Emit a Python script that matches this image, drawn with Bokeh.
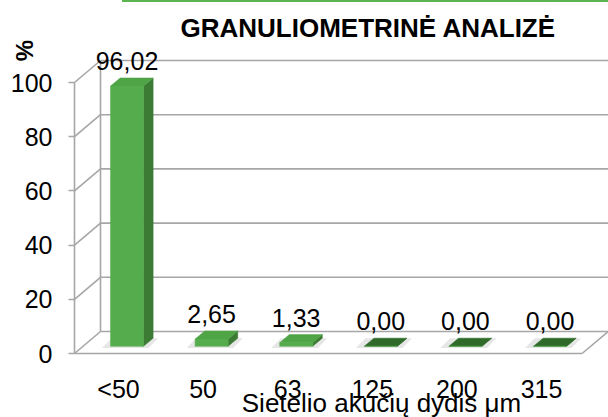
import numpy as np
from bokeh.plotting import figure
from bokeh.layouts import column
from bokeh.models import Range1d, FixedTicker, ColumnDataSource, LabelSet, Label, Div
from bokeh.core.properties import value
from bokeh.embed import file_html
from bokeh.resources import INLINE

# ---- data ----
categories = ["<50", "50", "63", "125", "200", "315"]
values = [96.02, 2.65, 1.33, 0.00, 0.00, 0.00]
y_ticks = [0, 20, 40, 60, 80, 100]
title_text = "GRANULIOMETRINĖ ANALIZĖ"
x_title = "Sietelio akučių dydis μm"
y_title = "%"

# ---- layout / projection settings ----
FONT = "Liberation Sans"
STRIP = 2                           # green rule above the chart
TOP = 40                            # screen y of the plot frame top
FRAME_W, FRAME_H = 608, 377
PX_X, PX_Y = 84.6, 2.71             # pixels per category / per percent
CAT0_PX, ZERO_PX = 118, 353         # screen position of first category / of 0 %
XS = -CAT0_PX / PX_X                # x range start (screen x = 0)
YS = (ZERO_PX - (TOP + FRAME_H)) / PX_Y
X_AXIS_X = (74 - CAT0_PX) / PX_X    # front edge of the 3D box
X_LABEL_Y = (ZERO_PX - 360) / PX_Y  # where category labels hang
DX, DY = 26 / PX_X, 22 / PX_Y       # depth of the 3D box in data units
F, BD, HW = 0.327, 0.37, 0.195      # bar front depth, bar depth, half width
GRID = "#a6a6a6"

n = len(categories)
xi = np.arange(n, dtype=float)
v = np.array(values, dtype=float)

p = figure(frame_width=FRAME_W, frame_height=FRAME_H,
           x_range=Range1d(XS, XS + FRAME_W / PX_X),
           y_range=Range1d(YS, YS + FRAME_H / PX_Y),
           output_backend="svg", toolbar_location=None,
           min_border_left=0, min_border_top=TOP - STRIP,
           min_border_right=0, min_border_bottom=0,
           title=title_text)
p.outline_line_color = None
p.background_fill_color = "white"
p.border_fill_color = "white"
p.xgrid.visible = False
p.ygrid.visible = False

p.title.text_font = FONT
p.title.text_font_size = "26px"
p.title.text_font_style = "bold"
p.title.text_color = "black"
p.title.align = "left"
p.title.offset = 180
p.title.standoff = -5

# ---- 3D box: walls and floor derived from ticks and categories ----
t = np.array(y_ticks, dtype=float)
x_right = X_AXIS_X + n
x_far = XS + FRAME_W / PX_X + 1
p.segment(x0=[X_AXIS_X] * len(t), y0=t, x1=[X_AXIS_X + DX] * len(t), y1=t + DY,
          line_color=GRID, line_width=1.6)
p.segment(x0=[X_AXIS_X + DX] * len(t), y0=t + DY, x1=[x_far] * len(t), y1=t + DY,
          line_color=GRID, line_width=1.6)
p.segment(x0=[X_AXIS_X + DX], y0=[t[0] + DY], x1=[X_AXIS_X + DX], y1=[t[-1] + DY],
          line_color=GRID, line_width=1.6)
p.segment(x0=[X_AXIS_X, x_right], y0=[0, 0], x1=[x_right, x_right + DX], y1=[0, DY],
          line_color=GRID, line_width=1.6)

# ---- bars ----
left = xi - HW + F * DX
right = xi + HW + F * DX
bottom = np.full(n, F * DY)
top = v + F * DY

sh_xs = [[l - 0.1, r + 0.06, r + 0.06 + BD * DX, l - 0.1 + BD * DX]
         for l, r in zip(left, right)]
sh_ys = [[b - 0.6, b - 0.6, b + BD * DY, b + BD * DY] for b in bottom]
p.patches(sh_xs, sh_ys, fill_color="#9a9a9a", fill_alpha=0.25, line_color=None)

side_xs = [[r, r, r + BD * DX, r + BD * DX] for r in right]
side_ys = [[b, tp, tp + BD * DY, b + BD * DY] for b, tp in zip(bottom, top)]
p.patches(side_xs, side_ys, fill_color="#3b7b34", line_color="#3b7b34", line_width=0.5)

top_colors = ["#4fa446" if val > 0 else "#2f6a2a" for val in v]
top_xs = [[l, r, r + BD * DX, l + BD * DX] for l, r in zip(left, right)]
top_ys = [[tp, tp, tp + BD * DY, tp + BD * DY] for tp in top]
p.patches(top_xs, top_ys, fill_color=top_colors, line_color=top_colors, line_width=0.5)

p.quad(left=left, right=right, bottom=bottom, top=top,
       fill_color="#55ac4c", line_color="#55ac4c", line_width=0.5)

# ---- value labels ----
src = ColumnDataSource(dict(x=xi + F * DX, y=top,
                            txt=[f"{val:.2f}".replace(".", ",") for val in v]))
p.add_layout(LabelSet(x="x", y="y", text="txt", source=src, y_offset=16,
                      text_align="center", text_baseline="alphabetic",
                      text_font=value(FONT), text_font_size=value("25px"),
                      text_color="black"))

# ---- axes (fixed at the front edge of the 3D box) ----
yax = p.yaxis[0]
yax.fixed_location = X_AXIS_X
yax.ticker = FixedTicker(ticks=y_ticks)
yax.bounds = (y_ticks[0], y_ticks[-1])
yax.axis_line_color = GRID
yax.axis_line_width = 1.6
yax.major_tick_line_color = GRID
yax.major_tick_line_width = 1.6
yax.major_tick_out = 6
yax.major_tick_in = 0
yax.minor_tick_line_color = None
yax.major_label_standoff = 16
yax.major_label_text_font = FONT
yax.major_label_text_font_size = "25px"
yax.major_label_text_color = "black"

xax = p.xaxis[0]
xax.fixed_location = X_LABEL_Y
xax.ticker = FixedTicker(ticks=list(range(n)))
xax.major_label_overrides = {i: c for i, c in enumerate(categories)}
xax.axis_line_color = None
xax.major_tick_line_color = None
xax.minor_tick_line_color = None
xax.major_tick_out = 0
xax.major_tick_in = 0
xax.major_label_standoff = 14
xax.major_label_text_font = FONT
xax.major_label_text_font_size = "25px"
xax.major_label_text_color = "black"

# axis titles
p.add_layout(Label(x=(381 - CAT0_PX) / PX_X, y=(ZERO_PX - 387) / PX_Y, text=x_title,
                   text_align="center", text_baseline="top",
                   text_font=FONT, text_font_size="26px", text_color="black"))
p.add_layout(Label(x=(24 - CAT0_PX) / PX_X, y=(ZERO_PX - 50) / PX_Y, text=y_title,
                   angle=np.pi / 2, text_align="center", text_baseline="middle",
                   text_font=FONT, text_font_size="24px", text_font_style="bold",
                   text_color="black"))

# thin green rule along the top edge, as in the reference
rule = Div(text="", width=FRAME_W - 122, height=STRIP, margin=(0, 0, 0, 122),
           styles={"background-color": "#5bb450"})

layout = column(rule, p, spacing=0)
open("out.html", "w").write(file_html(layout, INLINE))
